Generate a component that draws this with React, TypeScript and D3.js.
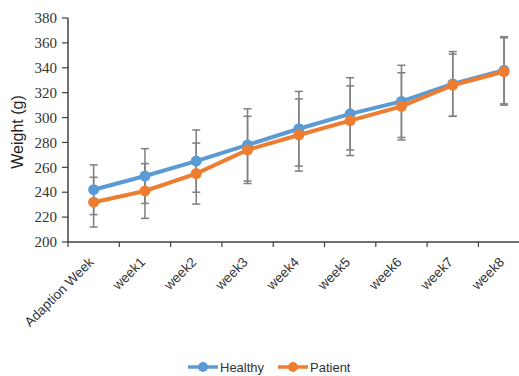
import * as d3 from 'd3'

const categories = ['Adaption Week', 'week1', 'week2', 'week3', 'week4', 'week5', 'week6', 'week7', 'week8']
const healthy = [242, 253, 265, 278, 291, 303, 313, 327, 338]
const healthyErr = [20, 22, 25, 29, 30, 29, 29, 26, 27]
const patient = [232, 241, 255, 274, 286, 297.5, 309, 326, 337]
const patientErr = [20, 22, 24.5, 27, 29, 28, 27, 25, 27]
const yTicks = [200, 220, 240, 260, 280, 300, 320, 340, 360, 380]

const series = [
  { name: 'Healthy', values: healthy, err: healthyErr, color: '#5B9BD5' },
  { name: 'Patient', values: patient, err: patientErr, color: '#ED7D31' },
]

export default function App() {
  const width = 519
  const height = 376
  const left = 68
  const top = 18
  const bottom = 242
  const bandW = 51.3

  const x = d3.scaleBand<string>()
    .domain(categories)
    .range([left, left + bandW * categories.length])
  const y = d3.scaleLinear().domain([200, 380]).range([bottom, top])
  const cx = (c: string) => (x(c) ?? 0) + x.bandwidth() / 2

  const line = d3.line<number>()
    .x((_, i) => cx(categories[i]))
    .y(d => y(d))

  const axisColor = '#404040'
  const errColor = '#7F7F7F'

  return (
    <svg width={width} height={height} style={{ position: 'absolute', left: 0, top: 0, background: '#fff' }}>
      {/* y axis */}
      <line x1={left} x2={left} y1={top} y2={bottom} stroke={axisColor} strokeWidth={1.5} />
      {yTicks.map(t => (
        <g key={t}>
          <line x1={left - 6} x2={left} y1={y(t)} y2={y(t)} stroke={axisColor} strokeWidth={1.2} />
          <text x={left - 11} y={y(t)} dy="0.35em" textAnchor="end" fontFamily="Liberation Serif" fontSize={15} fill="#333">{t}</text>
        </g>
      ))}
      <text transform={`translate(23,${(top + bottom) / 2 + 2}) rotate(-90)`} textAnchor="middle"
        fontFamily="Liberation Sans" fontSize={16} fill="#222">Weight (g)</text>

      {/* x axis */}
      <line x1={left} x2={width + 20} y1={bottom} y2={bottom} stroke={axisColor} strokeWidth={1.5} />
      {categories.map(c => (
        <line key={c} x1={x(c) ?? 0} x2={x(c) ?? 0} y1={bottom} y2={bottom + 5} stroke={axisColor} strokeWidth={1.2} />
      ))}
      {categories.map(c => (
        <text key={c} transform={`translate(${cx(c) + 1},${bottom + 21}) rotate(-45)`} textAnchor="end"
          fontFamily="Liberation Sans" fontSize={13.5} fill="#333">{c}</text>
      ))}

      {/* error bars */}
      {series.map(s => s.values.map((v, i) => {
        const xc = cx(categories[i])
        const hi = y(v + s.err[i])
        const lo = y(v - s.err[i])
        return (
          <g key={s.name + i} stroke={errColor} strokeWidth={1.5}>
            <line x1={xc} x2={xc} y1={hi} y2={lo} />
            <line x1={xc - 4} x2={xc + 4} y1={hi} y2={hi} />
            <line x1={xc - 4} x2={xc + 4} y1={lo} y2={lo} />
          </g>
        )
      }))}

      {/* lines */}
      {series.map(s => (
        <g key={s.name}>
          <path d={line(s.values) ?? ''} fill="none" stroke={s.color} strokeWidth={4} />
          {s.values.map((v, i) => (
            <circle key={i} cx={cx(categories[i])} cy={y(v)} r={5.5} fill={s.color} />
          ))}
        </g>
      ))}

      {/* legend */}
      {series.map((s, i) => {
        const lx = 188 + i * 90
        const ly = 367
        return (
          <g key={s.name}>
            <line x1={lx} x2={lx + 30} y1={ly} y2={ly} stroke={s.color} strokeWidth={3.5} />
            <circle cx={lx + 15} cy={ly} r={5} fill={s.color} />
            <text x={lx + 32} y={ly} dy="0.35em" fontFamily="Liberation Sans" fontSize={13} fill="#333">{s.name}</text>
          </g>
        )
      })}
    </svg>
  )
}
